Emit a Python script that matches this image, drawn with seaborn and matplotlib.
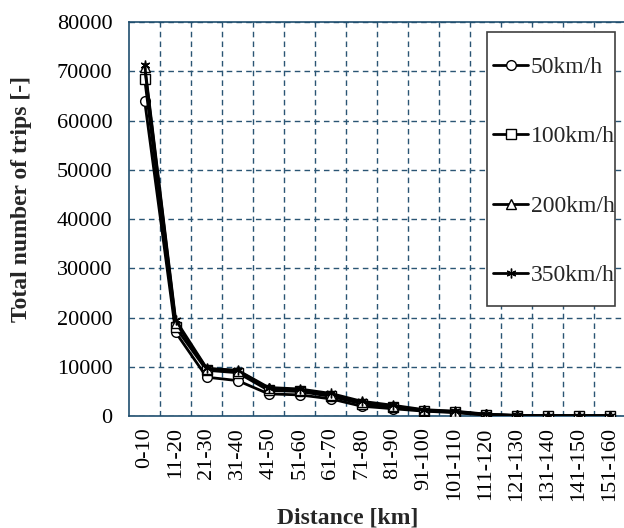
import pandas as pd
import seaborn as sns
import matplotlib
matplotlib.use("Agg")
import matplotlib.pyplot as plt
from matplotlib.patches import Rectangle
from matplotlib.ticker import FixedLocator

# Dados
distancias = ["0-10", "11-20", "21-30", "31-40", "41-50", "51-60", "61-70", "71-80",
              "81-90", "91-100", "101-110", "111-120", "121-130", "131-140", "141-150", "151-160"]
v50 = [64000, 17000, 7900, 7200, 4500, 4300, 3500, 2000, 1500, 1000, 700, 200, 100, 60, 50, 40]
v100 = [68500, 18000, 9300, 8800, 5200, 5000, 4000, 2500, 1800, 1100, 800, 300, 110, 70, 60, 50]
v200 = [70800, 19000, 9600, 9200, 5600, 5300, 4300, 2800, 2000, 1200, 900, 350, 120, 80, 70, 60]
v350 = [71300, 19500, 9700, 9300, 5800, 5500, 4600, 3000, 2200, 1300, 1000, 400, 130, 90, 80, 70]
series = ["50km/h", "100km/h", "200km/h", "350km/h"]
markers = ["o", "s", "^", (6, 2, 0)]

df = pd.DataFrame({"Distance": distancias, "50km/h": v50, "100km/h": v100,
                   "200km/h": v200, "350km/h": v350})
df["pos"] = range(len(distancias))

sns.set_style("white")
plt.rcParams["font.family"] = ["Liberation Serif", "DejaVu Serif"]

fig = plt.figure(figsize=(6.24, 5.28), dpi=100)
ax = fig.add_axes([0.207, 0.212, 0.795, 0.746])

for s, m in zip(series, markers):
    sns.lineplot(data=df, x="pos", y=s, ax=ax, color="black", linewidth=2.0,
                 marker=m, markersize=7 if m != "^" else 7.5,
                 markerfacecolor="white", markeredgecolor="black",
                 markeredgewidth=1.0, label=s, zorder=3)

ax.set_xlim(-0.5, len(distancias) - 0.5)
ax.set_ylim(0, 80000)
ax.set_yticks(range(0, 80001, 10000))
ax.set_xticks(df["pos"])
ax.set_xticklabels(distancias, rotation=90)
ax.xaxis.set_minor_locator(FixedLocator([i + 0.5 for i in range(len(distancias) - 1)]))
ax.tick_params(axis="both", which="both", length=0, labelsize=16, colors="black")
ax.tick_params(axis="x", pad=8)
ax.tick_params(axis="y", pad=12)

grid_kw = dict(color="#2a5574", linestyle=(0, (4, 3)), linewidth=1.0)
ax.grid(axis="y", which="major", **grid_kw)
ax.grid(axis="x", which="minor", **grid_kw)
ax.grid(axis="x", which="major", visible=False)

for side in ["left", "bottom", "top"]:
    ax.spines[side].set_color("#1f4e6e")
    ax.spines[side].set_linewidth(1.2)
ax.spines["right"].set_visible(False)

ax.set_xlabel("Distance [km]", fontsize=17, fontweight="bold")
ax.xaxis.set_label_coords(0.44, -0.233)
ax.set_ylabel("Total number of trips [-]", fontsize=17, fontweight="bold")
ax.yaxis.set_label_coords(-0.196, 0.551)

# caixa da legenda (estilo Excel)
caixa = Rectangle((0.722, 0.279), 0.258, 0.696, transform=ax.transAxes,
                  facecolor="white", edgecolor="#404040", linewidth=1.2, zorder=4)
ax.add_patch(caixa)

leg = ax.legend(loc="upper left", bbox_to_anchor=(0.724, 0.925), fontsize=17,
                frameon=False, labelspacing=2.03, handlelength=1.5,
                handletextpad=0.1, borderpad=0.2, borderaxespad=0.0)
leg.set_zorder(5)
for line in leg.get_lines():
    line.set_linewidth(2.0)

fig.savefig("out.png", dpi=100)
